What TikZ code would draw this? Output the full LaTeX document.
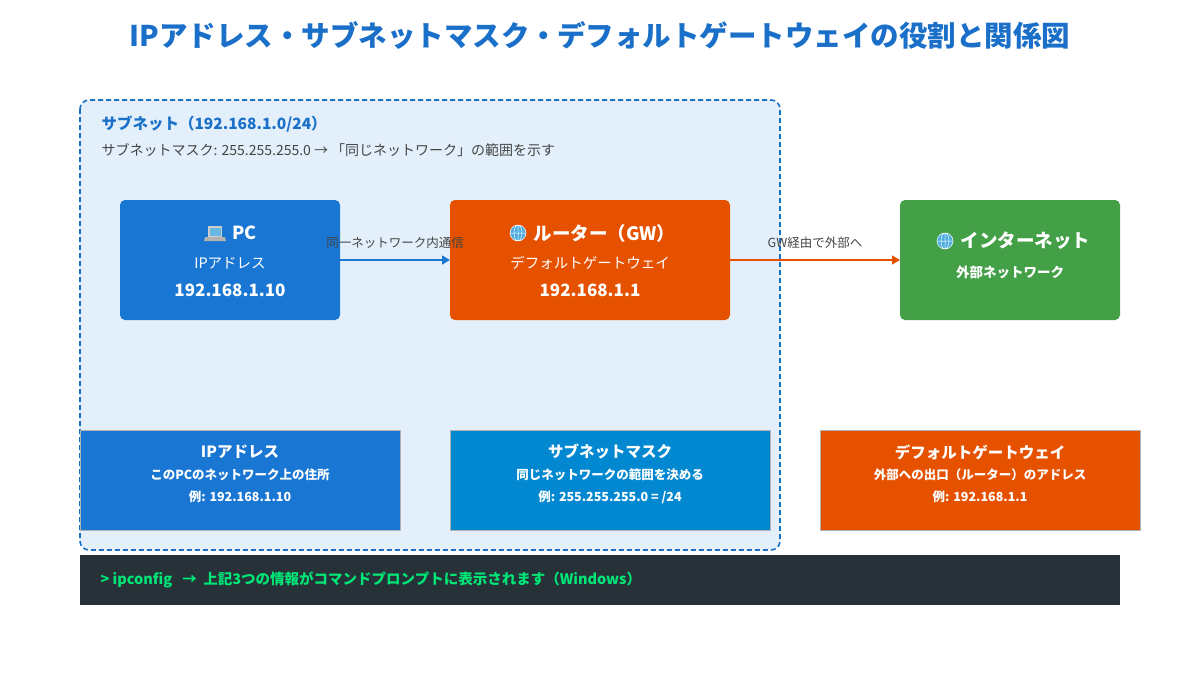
\documentclass[tikz,border=0pt]{standalone}
\usepackage{fontspec}
\setmainfont{Noto Sans CJK JP}
\usetikzlibrary{arrows.meta}
\definecolor{tblue}{HTML}{1A6FC8}
\definecolor{pcblue}{HTML}{1976D2}
\definecolor{skyb}{HTML}{0288D1}
\definecolor{orng}{HTML}{E65100}
\definecolor{grn}{HTML}{43A047}
\definecolor{subfill}{HTML}{E3F0FB}
\definecolor{term}{HTML}{263238}
\definecolor{termg}{HTML}{00E676}
\definecolor{gtxt}{HTML}{444444}
\begin{document}
\begin{tikzpicture}[x=1pt,y=-1pt,
  box/.style={rounded corners=5pt},
  wt/.style={text=white,font=\bfseries\fontsize{14}{16}\selectfont},
  sbox/.style={draw=gray!60,line width=0.6pt},
  st/.style={text=white,font=\bfseries\fontsize{12.5}{14}\selectfont},
  arr/.style={line width=1.4pt,-{Triangle[length=8pt,width=9pt]}},
  lab/.style={text=gtxt,font=\fontsize{12.5}{14}\selectfont}]
\useasboundingbox (0,0) rectangle (1200,675);
\node[text=tblue,font=\bfseries\fontsize{28.5}{31}\selectfont] (title) at (600,35) {IPアドレス・サブネットマスク・デフォルトゲートウェイの役割と関係図};
\draw[tblue,dash pattern=on 5pt off 3pt,line width=1.6pt,fill=subfill,rounded corners=9pt] (80,100) rectangle (780,550);
\node[anchor=west,text=tblue,font=\bfseries\fontsize{15.5}{17}\selectfont] (st1) at (98,124) {サブネット（192.168.1.0/24）};
\node[anchor=west,text=gtxt,font=\fontsize{14}{16}\selectfont] (st2) at (98,150) {サブネットマスク: 255.255.255.0 → 「同じネットワーク」の範囲を示す};
% main boxes
\fill[pcblue,box] (120,200) rectangle (340,320);
\coordinate (pc) at (230,260);
\fill[orng,box] (450,200) rectangle (730,320);
\coordinate (gw) at (590,260);
\fill[grn,box] (900,200) rectangle (1120,320);
\coordinate (inet) at (1010,260);
% laptop icon
\fill[gray!40] (208,226) rectangle (222,237);
\fill[skyb!60] (209.5,227.5) rectangle (220.5,235.5);
\fill[gray!60] (205,237) -- (225,237) -- (226,241) -- (204,241) -- cycle;
\node[wt,font=\bfseries\fontsize{18}{20}\selectfont,anchor=west] (pct) at (229,233) {PC};
\node[st,font=\fontsize{14.5}{16}\selectfont] (pc2) at (230,263) {IPアドレス};
\node[wt,font=\bfseries\fontsize{17}{19}\selectfont] (pc3) at (230,290) {192.168.1.10};
% globe icons
\foreach \cx/\cy in {518/233, 945/241}{
  \fill[skyb!70] (\cx,\cy) circle (8);
  \draw[white,line width=0.5pt] (\cx,\cy) circle (8) (\cx-8,\cy)--(\cx+8,\cy) (\cx,\cy-8)--(\cx,\cy+8) (\cx,\cy) ellipse (4 and 8);
}
\node[wt,font=\bfseries\fontsize{18.5}{20}\selectfont,anchor=west] (gwt) at (530,233) {ルーター（GW）};
\node[st,font=\fontsize{14.5}{16}\selectfont] (gw2) at (590,263) {デフォルトゲートウェイ};
\node[wt,font=\bfseries\fontsize{17}{19}\selectfont] (gw3) at (590,290) {192.168.1.1};
\node[wt,font=\bfseries\fontsize{18.5}{20}\selectfont,anchor=west] (it) at (957,241) {インターネット};
\node[st,font=\bfseries\fontsize{13.5}{15}\selectfont] (it2) at (1010,272) {外部ネットワーク};
% arrows
\draw[arr,pcblue] (340,260) -- (450,260);
\node[lab] (l1) at (395,243) {同一ネットワーク内通信};
\draw[arr,orng] (730,260) -- (900,260);
\node[lab] (l2) at (815,243) {GW経由で外部へ};
% bottom boxes
\fill[pcblue] (80,430) rectangle (400,530);
\draw[sbox] (80,430) rectangle (400,530);
\fill[skyb] (450,430) rectangle (770,530);
\draw[sbox] (450,430) rectangle (770,530);
\fill[orng] (820,430) rectangle (1140,530);
\draw[sbox] (820,430) rectangle (1140,530);
\node[wt,font=\bfseries\fontsize{15.5}{17}\selectfont] (b1a) at (240,452) {IPアドレス};
\node[st] (b1b) at (240,475) {このPCのネットワーク上の住所};
\node[st] (b1c) at (240,497) {例: 192.168.1.10};
\node[wt,font=\bfseries\fontsize{15.5}{17}\selectfont] (b2a) at (610,452) {サブネットマスク};
\node[st] (b2b) at (610,475) {同じネットワークの範囲を決める};
\node[st] (b2c) at (610,497) {例: 255.255.255.0 = /24};
\node[wt,font=\bfseries\fontsize{15.5}{17}\selectfont] (b3a) at (980,452) {デフォルトゲートウェイ};
\node[st] (b3b) at (980,475) {外部への出口（ルーター）のアドレス};
\node[st] (b3c) at (980,497) {例: 192.168.1.1};
% terminal
\fill[term] (80,555) rectangle (1120,605);
\node[anchor=west,text=termg,font=\bfseries\fontsize{14.5}{16}\selectfont] (tt) at (97,580) {> ipconfig \ \ →\ \ 上記3つの情報がコマンドプロンプトに表示されます（Windows）};
\end{tikzpicture}
\end{document}
